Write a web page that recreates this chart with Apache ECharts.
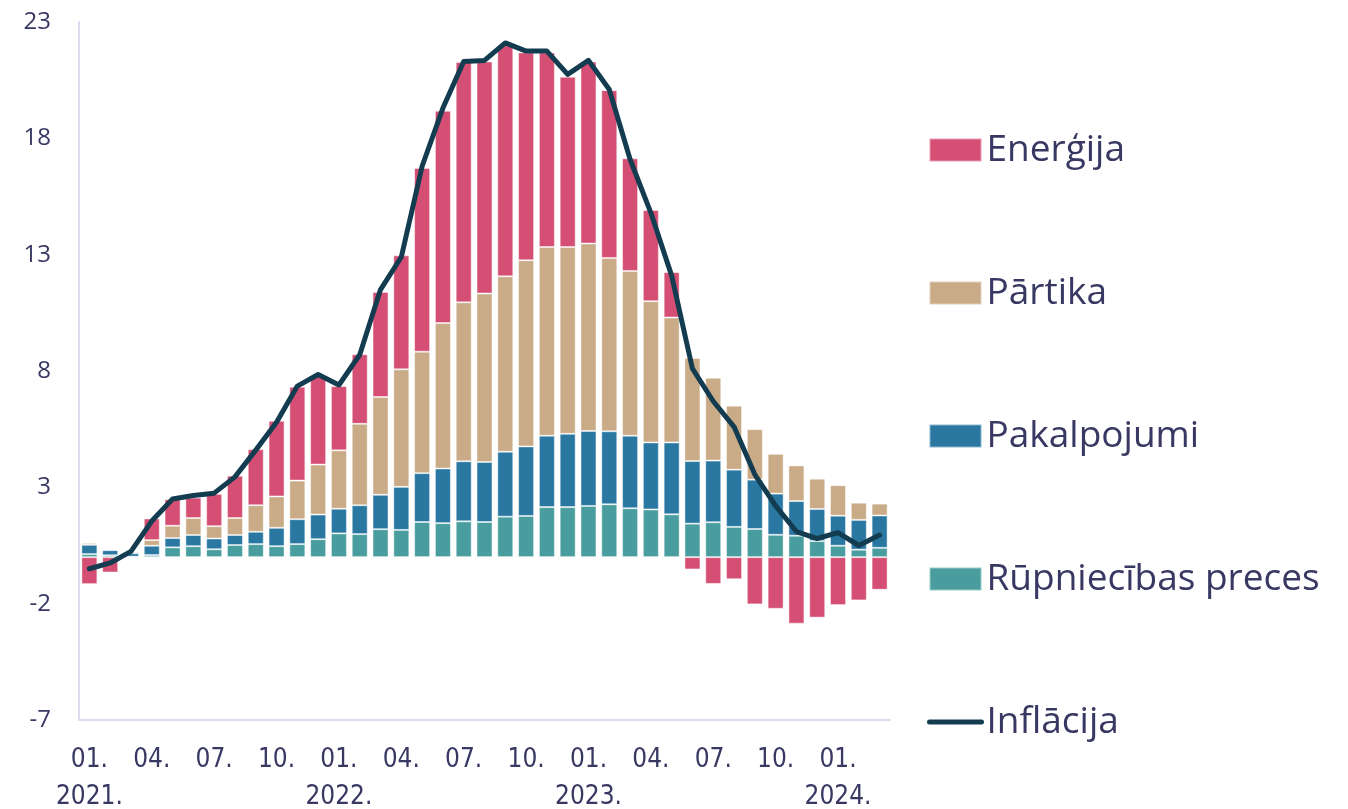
<!DOCTYPE html>
<html>
<head>
<meta charset="utf-8">
<script src="https://cdn.jsdelivr.net/npm/echarts@6/dist/echarts.min.js"></script>
<style>
  html, body { margin: 0; padding: 0; background: #fff; overflow: hidden; }
  #chart { width: 1348px; height: 809px; }
</style>
</head>
<body>
<div id="chart"></div>
<script>
// months 01.2021 - 03.2024
const years = [2021, 2022, 2023, 2024];
const categories = [];
years.forEach(y => {
  for (let m = 1; m <= 12; m++) {
    if (y === 2024 && m > 3) break;
    const mm = (m < 10 ? "0" : "") + m + ".";
    categories.push(m === 1 ? mm + "\n" + y + "." : mm);
  }
});

const yTicks = [-7, -2, 3, 8, 13, 18, 23];

const rupniecibas = [0.13, 0.08, 0.02, 0.09, 0.42, 0.47, 0.34, 0.52, 0.56, 0.47, 0.56, 0.77,
  1.02, 0.99, 1.2, 1.17, 1.51, 1.46, 1.54, 1.51, 1.74, 1.77, 2.15, 2.15,
  2.2, 2.27, 2.1, 2.05, 1.84, 1.44, 1.5, 1.3, 1.21, 0.96, 0.92, 0.69,
  0.49, 0.32, 0.4];
const pakalpojumi = [0.4, 0.22, 0.15, 0.4, 0.4, 0.48, 0.46, 0.43, 0.53, 0.79, 1.07, 1.06,
  1.06, 1.24, 1.48, 1.85, 2.1, 2.35, 2.58, 2.58, 2.79, 2.99, 3.07, 3.15,
  3.22, 3.14, 3.12, 2.88, 3.09, 2.69, 2.65, 2.46, 2.12, 1.77, 1.49, 1.38,
  1.29, 1.28, 1.39];
const partika = [0.08, 0.04, 0.06, 0.24, 0.53, 0.73, 0.53, 0.73, 1.14, 1.35, 1.66, 2.15,
  2.51, 3.5, 4.2, 5.05, 5.22, 6.25, 6.83, 7.24, 7.54, 8.0, 8.11, 8.03,
  8.06, 7.45, 7.08, 6.07, 5.37, 4.43, 3.56, 2.75, 2.17, 1.71, 1.53, 1.3,
  1.31, 0.74, 0.51];
const energija = [-1.16, -0.66, 0, 0.93, 1.14, 0.88, 1.39, 1.82, 2.41, 3.25, 4.03, 3.82,
  2.76, 2.99, 4.52, 4.9, 7.9, 9.13, 10.33, 9.97, 9.93, 8.93, 8.36, 7.32,
  7.82, 7.21, 4.84, 3.92, 1.95, -0.53, -1.15, -0.95, -2.03, -2.22, -2.86, -2.6,
  -2.06, -1.86, -1.4];
const inflacija = [-0.5, -0.25, 0.25, 1.55, 2.5, 2.65, 2.75, 3.45, 4.6, 5.8, 7.35, 7.85,
  7.4, 8.7, 11.5, 12.9, 16.8, 19.3, 21.3, 21.35, 22.1, 21.75, 21.75, 20.75,
  21.35, 20.1, 17.1, 14.8, 12.1, 8.1, 6.7, 5.6, 3.55, 2.2, 1.1, 0.8,
  1.05, 0.5, 0.95];

const textColor = "#383863";
const axisColor = "#dcdcee";
const sans = "'Open Sans', 'Noto Sans', sans-serif";

function barSeries(name, data, color) {
  return {
    name: name,
    type: "bar",
    stack: "total",
    data: data,
    barWidth: 16,
    itemStyle: {
      color: color,
      borderColor: "rgba(255,255,255,0.45)",
      borderWidth: 1
    }
  };
}

const chart = echarts.init(document.getElementById("chart"));
chart.setOption({
  animation: false,
  grid: { left: 79, width: 811, top: 22, height: 698, outerBoundsMode: "none", containLabel: false },
  legend: {
    orient: "vertical",
    left: 922,
    top: 124,
    itemWidth: 52,
    itemHeight: 23,
    itemGap: 101,
    textStyle: { color: textColor, fontSize: 37, fontFamily: sans, lineHeight: 42 },
    data: [
      { name: "Enerģija", icon: "rect" },
      { name: "Pārtika", icon: "rect" },
      { name: "Pakalpojumi", icon: "rect" },
      { name: "Rūpniecības preces", icon: "rect" },
      { name: "Inflācija", itemStyle: { opacity: 0 }, lineStyle: { width: 5, cap: "round" } }
    ]
  },
  xAxis: [
    {
      type: "category",
      data: categories,
      position: "bottom",
      axisLine: { show: false },
      axisTick: { show: false },
      axisLabel: {
        interval: 2,
        color: textColor,
        fontSize: 26,
        fontFamily: "'DejaVu Sans Condensed', 'Open Sans Condensed', " + sans,
        lineHeight: 37,
        margin: 22
      }
    },
    {
      type: "category",
      data: categories,
      position: "bottom",
      axisLine: { show: true, onZero: true, lineStyle: { color: axisColor, width: 2 } },
      axisTick: { show: false },
      axisLabel: { show: false }
    }
  ],
  yAxis: {
    type: "value",
    min: yTicks[0],
    max: yTicks[yTicks.length - 1],
    interval: 5,
    axisLine: { show: true, lineStyle: { color: axisColor, width: 2 } },
    axisTick: { show: false },
    splitLine: { show: false },
    axisLabel: { color: textColor, fontSize: 24, fontFamily: sans, margin: 28 }
  },
  series: [
    barSeries("Rūpniecības preces", rupniecibas, "#4a9d9e"),
    barSeries("Pakalpojumi", pakalpojumi, "#2a78a2"),
    barSeries("Pārtika", partika, "#c9ab87"),
    barSeries("Enerģija", energija, "#d44f73"),
    {
      name: "Inflācija",
      type: "line",
      data: inflacija,
      symbol: "none",
      z: 5,
      itemStyle: { color: "#133c50" },
      lineStyle: { color: "#133c50", width: 5, cap: "round", join: "round" }
    }
  ]
});
</script>
</body>
</html>
